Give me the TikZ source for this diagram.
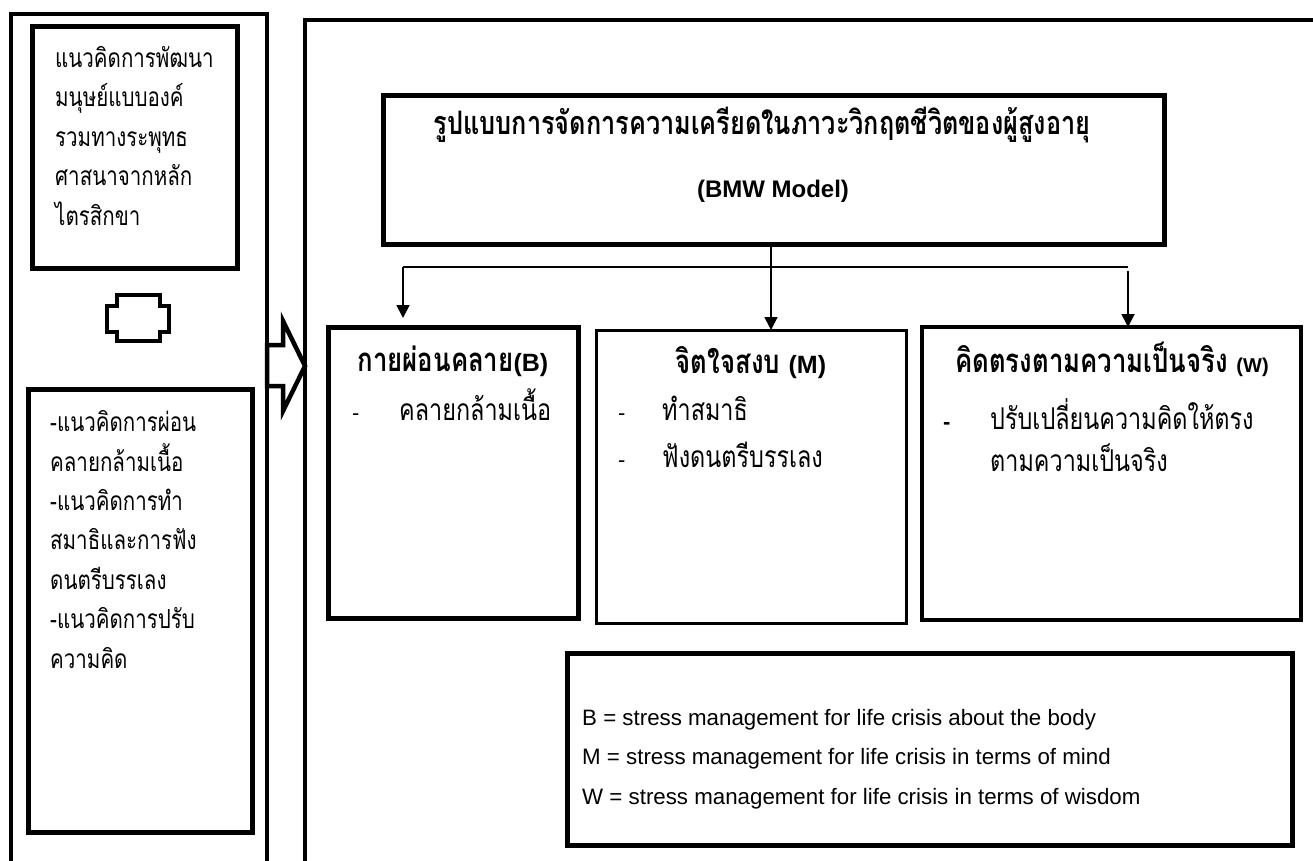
\documentclass[tikz,border=0pt]{standalone}
\usepackage{fontspec}
\setmainfont{Liberation Sans}
\newfontfamily\thai[Script=Thai,FakeStretch=0.78]{Loma}
\usetikzlibrary{arrows.meta,fit}
\begin{document}
\begin{tikzpicture}[x=1pt,y=-1pt,
  frame/.style={draw, line width=#1, inner sep=0pt, outer sep=0pt},
  frame/.default=4pt,
  conn/.style={line width=1.8pt},
  arr/.style={line width=1.8pt, -{Triangle[length=13pt,width=13pt]}},
  sidetxt/.style={font=\thai\fontsize{26.3}{39.4}\selectfont, inner sep=0pt, align=left},
  thtxt/.style={font=\thai\fontsize{30}{42}\selectfont, inner sep=0pt, align=left},
  thbold/.style={font=\thai\bfseries\fontsize{33}{36}\selectfont, inner sep=0pt},
  entxt/.style={font=\fontsize{22.3}{39.5}\selectfont, inner sep=0pt, align=left},
  dashtxt/.style={font=\fontsize{22}{26}\selectfont, inner sep=0pt}]
\useasboundingbox (0,0) rectangle (1313,861);
\clip (0,0) rectangle (1313,861);
\fill[white] (0,0) rectangle (1313,861);

% left column
\node[frame=4pt, fit={(11,14) (267,900)}] (leftcol) {};
\node[frame=5pt, fit={(32,27) (237,268)}] (concept) {};
\node[sidetxt, anchor=base west] (concepttxt) at (55,225)
  {แนวคิดการพัฒนา\\มนุษย์แบบองค์\\รวมทางระพุทธ\\ศาสนาจากหลัก\\ไตรสิกขา};
\node[frame=5pt, fit={(28,389) (252,832)}] (theory) {};
\node[sidetxt, anchor=base west] (theorytxt) at (50,668)
  {-แนวคิดการผ่อน\\คลายกล้ามเนื้อ\\-แนวคิดการทำ\\สมาธิและการฟัง\\ดนตรีบรรเลง\\-แนวคิดการปรับ\\ความคิด};
% cross symbol
\draw[line width=4.5pt, line join=miter] (117,295) -- (160,295) -- (160,306) -- (169,306) -- (169,332)
  -- (160,332) -- (160,341) -- (117,341) -- (117,332) -- (107,332) -- (107,306) -- (117,306) -- cycle;

% main frame
\node[frame=4pt, fit={(305,20) (1340,900)}] (main) {};
% block arrow
\coordinate (tip) at (main.west |- 0,366);
\draw[line width=4.5pt, fill=white, line join=miter]
  (leftcol.east |- 0,345) -- (283,345) -- (283,321) -- (tip) -- (283,411) -- (283,386)
  -- (leftcol.east |- 0,386) -- cycle;

% title
\node[frame=5pt, fit={(383,96) (1164,244)}] (title) {};
\node[font=\thai\bfseries\fontsize{32.4}{36}\selectfont, inner sep=0pt, anchor=base] (titleth) at (762,135)
  {รูปแบบการจัดการความเครียดในภาวะวิกฤตชีวิตของผู้สูงอายุ};
\node[font=\bfseries\fontsize{24}{28}\selectfont, inner sep=0pt, anchor=base] (titleen) at (773,197)
  {(BMW Model)};

% three boxes
\node[frame=5pt, fit={(328,327) (578,618)}] (B) {};
\node[frame=3pt, fit={(596,330) (906,623)}] (M) {};
\node[frame=3.5pt, fit={(922,327) (1301,620)}] (W) {};

\node[thbold, anchor=base] (Bt) at (453,371) {กายผ่อนคลาย{\rmfamily\bfseries\fontsize{25}{28}\selectfont(B)}};
\node[dashtxt, anchor=base west] (Bd1) at (352,420) {-};
\node[thtxt, anchor=base west] (Bl1) at (399,420) {คลายกล้ามเนื้อ};

\node[thbold, anchor=base] (Mt) at (751,373) {จิตใจสงบ {\rmfamily\bfseries\fontsize{25}{28}\selectfont(M)}};
\node[dashtxt, anchor=base west] (Md1) at (618,420) {-};
\node[thtxt, anchor=base west] (Ml1) at (662,420) {ทำสมาธิ};
\node[dashtxt, anchor=base west] (Md2) at (618,467) {-};
\node[thtxt, anchor=base west] (Ml2) at (662,467) {ฟังดนตรีบรรเลง};

\node[thbold, anchor=base] (Wt) at (1112,372) {คิดตรงตามความเป็นจริง {\rmfamily\bfseries\fontsize{20}{24}\selectfont(W)}};
\node[dashtxt, anchor=base west] (Wd1) at (943,429) {\bfseries -};
\node[thtxt, anchor=base west] (Wl1) at (990,471) {ปรับเปลี่ยนความคิดให้ตรง\\ตามความเป็นจริง};

% connectors
\coordinate (jB) at (403,267);
\coordinate (jM) at (771,267);
\coordinate (jW) at (1128,267);
\coordinate (tipB) at (403,318);
\draw[arr] (title.south -| jM) -- (M.north -| jM);
\draw[conn] (jB) -- (jW);
\draw[arr] (jB) -- (tipB);
\draw[arr] ([yshift=-4pt]jW) -- (W.north -| jW);

% legend
\node[frame=5pt, fit={(567,653) (1292,845)}] (legend) {};
\node[entxt, anchor=base west] (legtxt) at (582,804)
  {B = stress management for life crisis about the body\\
   M = stress management for life crisis in terms of mind\\
   W = stress management for life crisis in terms of wisdom};
\end{tikzpicture}
\end{document}
